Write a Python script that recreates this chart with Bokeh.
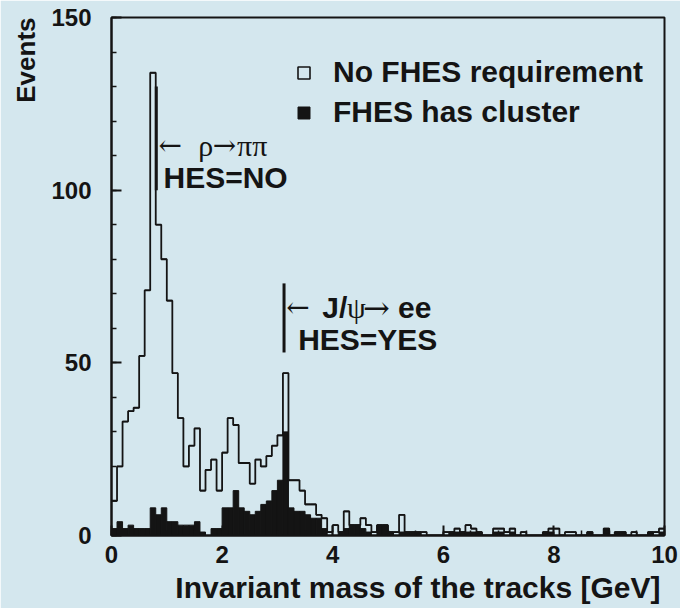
import numpy as np
from bokeh.plotting import figure
from bokeh.models import Range1d, FixedTicker, Label, Legend, LegendItem, Title
from bokeh.embed import file_html
from bokeh.resources import INLINE

# ---- data (0.1 GeV bins from 0 to 10 GeV) ----
mass_min = 0.0
bin_width = 0.1
n_bins = 100

no_fhes = [10, 20, 33, 36, 37, 52, 71, 134, 90, 80,
           68, 47, 34, 20, 26, 31, 13, 19, 22, 13,
           24, 34, 32, 21, 21, 15, 22, 20, 23, 26,
           29, 47, 16, 16, 13, 9, 9, 6, 5, 1,
           3, 1, 7, 3, 3, 5, 3, 1, 3, 3,
           1, 1, 6, 1, 1, 1, 1, 0, 0, 0,
           1, 1, 2, 1, 3, 2, 1, 0, 0, 2,
           2, 1, 2, 0, 1, 0, 0, 0, 1, 2,
           2, 0, 1, 1, 0, 0, 1, 0, 0, 2,
           0, 1, 1, 0, 1, 0, 0, 1, 1, 2]

fhes_cluster = [2, 4, 2, 3, 2, 2, 2, 8, 6, 8,
                4, 4, 3, 3, 3, 4, 1, 0, 2, 2,
                8, 8, 13, 8, 7, 6, 7, 9, 10, 13,
                16, 30, 8, 7, 7, 6, 5, 5, 2, 0,
                0, 1, 2, 3, 3, 2, 1, 0, 3, 3,
                1, 0, 1, 1, 1, 1, 0, 0, 0, 0,
                0, 1, 1, 1, 1, 1, 1, 0, 0, 1,
                1, 0, 1, 0, 0, 0, 0, 0, 1, 1,
                0, 0, 0, 0, 0, 0, 1, 0, 0, 2,
                0, 1, 1, 0, 0, 0, 0, 1, 0, 1]

x_ticks = [0, 2, 4, 6, 8, 10]
y_ticks = [0, 50, 100, 150]
legend_labels = ["No FHES requirement", "FHES has cluster"]
x_title = "Invariant mass of the tracks [GeV]"
y_title = "Events"

# annotation anchors (GeV, events)
rho_bar = (0.81, 100, 130)
jpsi_bar = (3.12, 53, 73)

BG = "#d4e7ee"
INK = "#141414"
SANS = "Liberation Sans"
SERIF = "Liberation Serif"
ARROWS = "DejaVu Serif"

edges = mass_min + bin_width * np.arange(n_bins + 1)
left = edges[:-1]
right = edges[1:]

p = figure(width=680, height=608, output_backend="svg", toolbar_location=None,
           x_range=Range1d(0, 10), y_range=Range1d(0, 150),
           min_border_left=110, min_border_right=16, min_border_top=17,
           min_border_bottom=73)
p.background_fill_color = BG
p.border_fill_color = BG
p.grid.visible = False
p.outline_line_color = INK
p.outline_line_width = 2

filled = p.quad(left=left, right=right, top=fhes_cluster, bottom=0,
                fill_color=INK, line_color=INK, line_width=1)
# tops of the open histogram (zero-height boxes) + its stepped outline
open_tops = p.quad(left=left, right=right, top=no_fhes, bottom=no_fhes,
                   fill_color=None, line_color=INK, line_width=1.6)
step_y = list(no_fhes) + [no_fhes[-1]]
p.step(x=edges, y=step_y, mode="after", line_color=INK, line_width=1.8)

# marker bars
p.segment(x0=[rho_bar[0], jpsi_bar[0]], y0=[rho_bar[1], jpsi_bar[1]],
          x1=[rho_bar[0], jpsi_bar[0]], y1=[rho_bar[2], jpsi_bar[2]],
          line_color=INK, line_width=3)

xa = p.xaxis[0]
ya = p.yaxis[0]
xa.ticker = FixedTicker(ticks=x_ticks, minor_ticks=list(np.arange(0, 10.01, 0.5)))
ya.ticker = FixedTicker(ticks=y_ticks, minor_ticks=list(range(0, 151, 10)))
for ax in (xa, ya):
    ax.axis_line_color = INK
    ax.axis_line_width = 2
    ax.major_tick_in = 10
    ax.major_tick_out = 0
    ax.minor_tick_in = 5
    ax.minor_tick_out = 0
    ax.major_tick_line_color = INK
    ax.major_tick_line_width = 2
    ax.minor_tick_line_color = INK
    ax.minor_tick_line_width = 1.5
    ax.major_label_text_font = SANS
    ax.major_label_text_font_style = "bold"
    ax.major_label_text_font_size = "24px"
    ax.major_label_text_color = INK
ya.major_label_standoff = 20
xa.major_label_standoff = 10

legend = Legend(items=[LegendItem(label=legend_labels[0], renderers=[open_tops]),
                       LegendItem(label=legend_labels[1], renderers=[filled])],
                location=(185, 406), glyph_width=15, glyph_height=15,
                label_standoff=22, spacing=6, padding=0, margin=0,
                label_text_font=SANS, label_text_font_style="bold",
                label_text_font_size="30px", label_text_color=INK,
                background_fill_alpha=0, border_line_alpha=0)
p.add_layout(legend)

def txt(t, x, y, font=SANS, style="bold", size="30px"):
    p.add_layout(Label(text=t, x=x, y=y, text_font=font, text_font_style=style,
                       text_font_size=size, text_color=INK,
                       text_baseline="alphabetic"))

rho_y, hes_no_y = 113.0, 103.6
jpsi_y, hes_yes_y = 66.0, 56.8
txt("\u2190", 0.85, rho_y, font=ARROWS, style="normal", size="28px")
txt("\u03c1", 1.57, rho_y, font=SERIF, style="normal", size="30px")
txt("\u2192", 1.83, rho_y, font=ARROWS, style="normal", size="28px")
txt("\u03c0\u03c0", 2.27, rho_y, font=SERIF, style="normal", size="30px")
txt("HES=NO", 0.94, hes_no_y)
txt("\u2190", 3.16, jpsi_y, font=ARROWS, style="normal", size="28px")
txt("J/", 3.81, jpsi_y)
txt("\u03c8", 4.26, jpsi_y, font=SERIF, style="normal", size="30px")
txt("\u2192", 4.55, jpsi_y, font=ARROWS, style="normal", size="32px")
txt("ee", 5.18, jpsi_y)
txt("HES=YES", 3.375, hes_yes_y)

# axis titles
p.add_layout(Title(text=x_title, align="right", offset=4, standoff=6,
                   text_font=SANS, text_font_style="bold",
                   text_font_size="30px", text_color=INK), "below")
p.add_layout(Title(text=y_title, align="right", offset=0, standoff=16,
                   text_font=SANS, text_font_style="bold",
                   text_font_size="26px", text_color=INK), "left")

open("out.html", "w").write(file_html(p, INLINE))
